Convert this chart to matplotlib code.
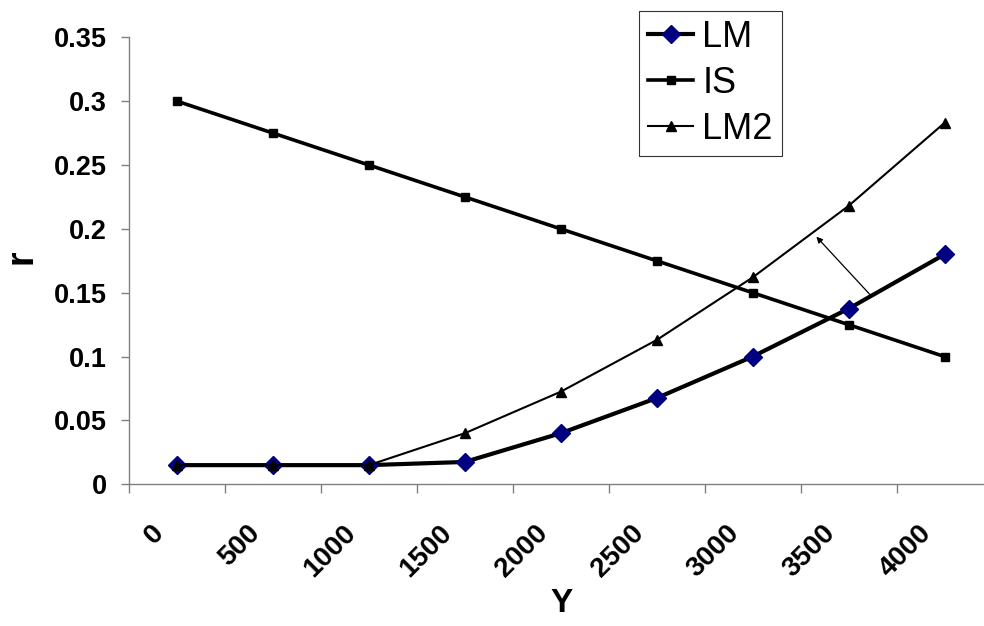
import matplotlib
matplotlib.use("Agg")
import matplotlib.pyplot as plt
import matplotlib.transforms as mtransforms

plt.rcParams['font.family'] = ['Liberation Sans', 'DejaVu Sans']

# Output (Y) and interest rate (r) schedules
y_output = [250, 750, 1250, 1750, 2250, 2750, 3250, 3750, 4250]
lm_rate = [0.015, 0.015, 0.015, 0.0175, 0.04, 0.0675, 0.1, 0.1375, 0.18]
is_rate = [0.3, 0.275, 0.25, 0.225, 0.2, 0.175, 0.15, 0.125, 0.1]
lm2_rate = [0.015, 0.015, 0.015, 0.04, 0.0725, 0.113, 0.162, 0.218, 0.283]

x_ticks = [0, 500, 1000, 1500, 2000, 2500, 3000, 3500, 4000, 4500]
x_tick_labels = ['0', '500', '1000', '1500', '2000', '2500', '3000', '3500', '4000', '']
y_ticks = [0, 0.05, 0.1, 0.15, 0.2, 0.25, 0.3, 0.35]
y_tick_labels = ['0', '0.05', '0.1', '0.15', '0.2', '0.25', '0.3', '0.35']

# Shift of the LM curve (arrow tail -> head)
shift_from = (3860, 0.1488)
shift_to = (3582, 0.1939)

W, H = 984, 626
fig = plt.figure(figsize=(W / 100, H / 100), dpi=100)
left, right, top, bottom = 129, 992.5, 37.3, 484.3
ax = fig.add_axes([left / W, 1 - bottom / H, (right - left) / W, (bottom - top) / H])

ax.plot(y_output, lm_rate, color='black', lw=3.0, marker='D', ms=9.2,
        mfc='#000080', mec='#000080', label='LM', zorder=3)
ax.plot(y_output, is_rate, color='black', lw=2.6, marker='s', ms=5.5,
        mfc='black', mec='black', label='IS', zorder=4)
ax.plot(y_output, lm2_rate, color='black', lw=1.5, marker='^', ms=6.5,
        mfc='black', mec='black', label='LM2', zorder=5)

ax.annotate('', xy=shift_to, xytext=shift_from,
            arrowprops=dict(arrowstyle='-|>', color='black', lw=0.9,
                            mutation_scale=9, shrinkA=0, shrinkB=0),
            zorder=6)

ax.set_xlim(0, 4500)
ax.set_ylim(0, 0.35)
ax.set_yticks(y_ticks)
ax.set_yticklabels(y_tick_labels)
ax.set_xticks(x_ticks)
ax.set_xticklabels(x_tick_labels)

for side in ('top', 'right'):
    ax.spines[side].set_visible(False)
for side in ('left', 'bottom'):
    ax.spines[side].set_color('#808080')
    ax.spines[side].set_linewidth(1.0)

ax.tick_params(axis='y', direction='out', length=6, width=1, color='#808080',
               pad=10, labelsize=19.5)
ax.tick_params(axis='x', direction='out', length=6.5, width=1, color='#808080',
               pad=19, labelsize=20)
for lab in ax.get_yticklabels():
    lab.set_fontweight('bold')
offset = mtransforms.ScaledTranslation(40 / 100, 0, fig.dpi_scale_trans)
for lab in ax.get_xticklabels():
    lab.set_fontweight('bold')
    lab.set_rotation(45)
    lab.set_ha('right')
    lab.set_va('top')
    lab.set_transform(lab.get_transform() + offset)

fig.text(562 / W, 1 - 603 / H, 'Y', fontsize=24, fontweight='bold',
         ha='center', va='center')
fig.text(21 / W, 1 - 257 / H, 'r', fontsize=27, fontweight='bold',
         ha='center', va='center', rotation=90)

leg = ax.legend(loc='upper right', bbox_to_anchor=(782 / W, 1 - 11 / H),
                bbox_transform=fig.transFigure, borderaxespad=0,
                fontsize=26, frameon=True, fancybox=False, handlelength=1.25,
                handletextpad=0.25, labelspacing=0.3, borderpad=0.25)
leg.get_frame().set_edgecolor('black')
leg.get_frame().set_linewidth(0.8)

fig.savefig('out.png', dpi=100)
